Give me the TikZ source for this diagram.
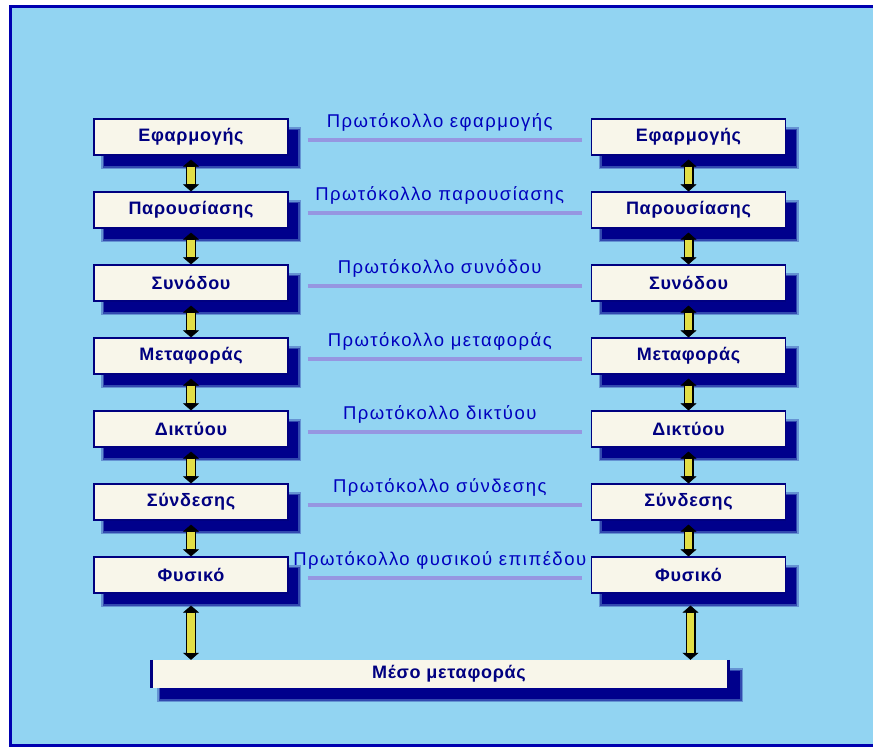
\documentclass[tikz,border=0pt]{standalone}
\usepackage{fontspec}
\setmainfont{Liberation Sans}
\newfontfamily\layerfont[LetterSpace=4]{Liberation Sans}
\newfontfamily\protofont[LetterSpace=8]{Liberation Sans}
\usetikzlibrary{arrows.meta,shadows}

\definecolor{bgblue}{RGB}{146,212,242}
\definecolor{frameblue}{RGB}{0,0,176}
\definecolor{deepnavy}{RGB}{0,0,128}
\definecolor{shadownavy}{RGB}{0,0,140}
\definecolor{lav}{RGB}{150,150,225}
\definecolor{labelblue}{RGB}{0,0,190}
\definecolor{boxfill}{RGB}{248,246,234}
\definecolor{arrowyellow}{RGB}{226,222,70}

\tikzset{
  softshadow/.style={
    general shadow={shadow xshift=10pt, shadow yshift=-11pt, draw=shadownavy, line width=6pt, opacity=.3},
    general shadow={shadow xshift=10pt, shadow yshift=-11pt, draw=shadownavy, line width=3pt, opacity=.5},
    general shadow={shadow xshift=10pt, shadow yshift=-11pt, fill=shadownavy}},
  layerbox/.style={softshadow, draw=deepnavy, line width=1.2pt, fill=boxfill,
    minimum width=194pt, minimum height=36pt, inner sep=0pt, text=deepnavy,
    font=\layerfont\bfseries\fontsize{18}{20}\selectfont},
  mediumbox/.style={softshadow, fill=boxfill, minimum width=580pt, minimum height=28pt,
    inner sep=0pt, text=deepnavy, font=\layerfont\bfseries\fontsize{18}{20}\selectfont},
  linkouter/.style={draw=black, line width=10pt,
    {Triangle[width=16pt,length=7pt,line width=0.5pt]}-{Triangle[width=16pt,length=7pt,line width=0.5pt]}},
  linkinner/.style={draw=arrowyellow, line width=7.5pt, shorten <=7pt, shorten >=7pt},
  protoline/.style={draw=lav, line width=4.5pt, shorten <=19pt, shorten >=9pt},
  protolabel/.style={anchor=base, yshift=13pt, inner sep=0pt, text=labelblue,
    font=\protofont\fontsize{18.5}{21}\selectfont},
}

\begin{document}
\begin{tikzpicture}[x=1pt,y=-1pt]
  \useasboundingbox (0,0) rectangle (873,747);
  \fill[white] (0,0) rectangle (873,747);
  \fill[bgblue] (10,6) rectangle (873,745);
  \draw[frameblue, line width=3pt] (873,6.5) -- (10,6.5) -- (10,745) -- (873,745);

  % the seven layers on both ends
  \foreach \name [count=\i from 0] in {Εφαρμογής,Παρουσίασης,Συνόδου,Μεταφοράς,Δικτύου,Σύνδεσης,Φυσικό}{
    \pgfmathsetmacro\yy{137+73*\i}
    \node[layerbox] (l\i) at (191,\yy) {\name};
    \node[layerbox] (r\i) at (688.5,\yy) {\name};
  }

  % transmission medium
  \node[mediumbox] (medium) at (440,674) {\hspace*{18pt}Μέσο μεταφοράς};
  \draw[deepnavy, line width=3pt] ([xshift=1.5pt]medium.north west) -- ([xshift=1.5pt]medium.south west);
  \draw[deepnavy, line width=3pt] ([xshift=-1.5pt]medium.north east) -- ([xshift=-1.5pt]medium.south east);

  % vertical links between adjacent layers
  \foreach \i [evaluate=\i as \j using int(\i+1)] in {0,...,5}{
    \draw[linkouter] ([yshift=-4pt]l\i.south) -- (l\j.north);
    \draw[linkinner] ([yshift=-4pt]l\i.south) -- (l\j.north);
    \draw[linkouter] ([yshift=-4pt]r\i.south) -- (r\j.north);
    \draw[linkinner] ([yshift=-4pt]r\i.south) -- (r\j.north);
  }
  \draw[linkouter] ([yshift=-12pt]l6.south) -- (l6.south |- medium.north);
  \draw[linkinner] ([yshift=-12pt]l6.south) -- (l6.south |- medium.north);
  \draw[linkouter] ([yshift=-12pt,xshift=2pt]r6.south) -- ([xshift=2pt]r6.south |- medium.north);
  \draw[linkinner] ([yshift=-12pt,xshift=2pt]r6.south) -- ([xshift=2pt]r6.south |- medium.north);

  % peer protocols
  \foreach \proto [count=\i from 0] in {Πρωτόκολλο εφαρμογής,Πρωτόκολλο παρουσίασης,Πρωτόκολλο συνόδου,Πρωτόκολλο μεταφοράς,Πρωτόκολλο δικτύου,Πρωτόκολλο σύνδεσης,Πρωτόκολλο φυσικού επιπέδου}{
    \draw[protoline] ([yshift=-3pt]l\i.east) -- ([yshift=-3pt]r\i.west)
      node[midway, protolabel] {\proto};
  }
\end{tikzpicture}
\end{document}
